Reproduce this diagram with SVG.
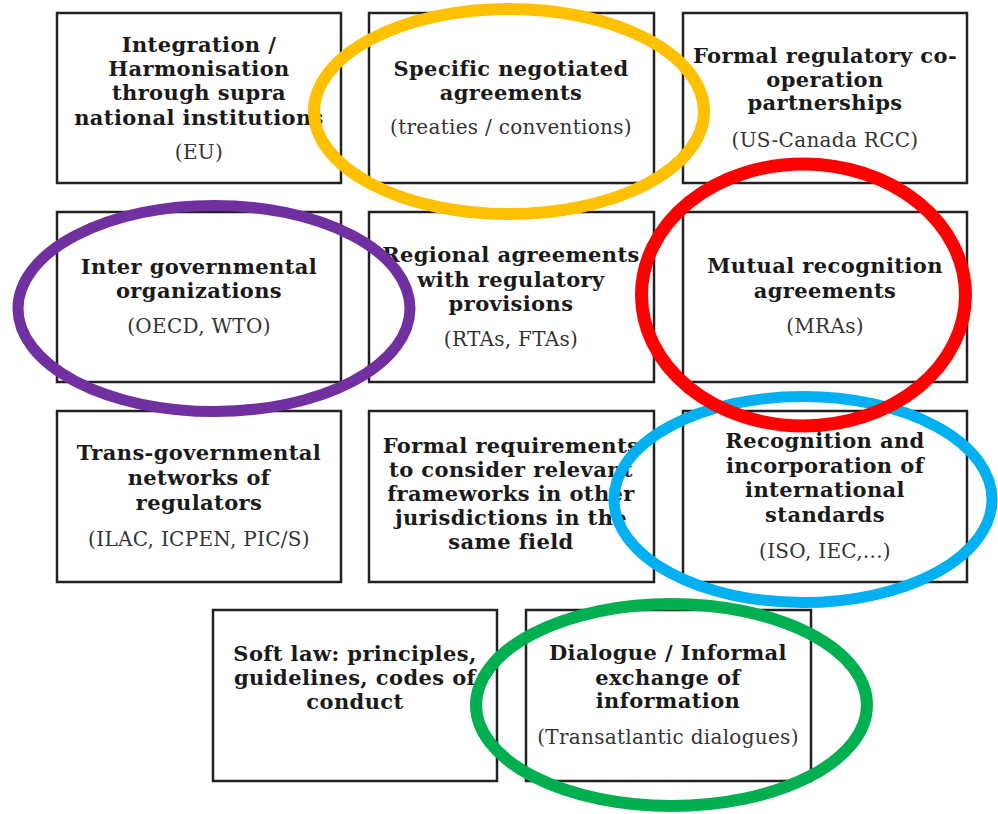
<svg xmlns="http://www.w3.org/2000/svg" width="998" height="814" viewBox="0 0 998 814">
<style>
.box{fill:#fff;stroke:#222;stroke-width:2.5}
.t{font-family:"DejaVu Serif","Liberation Serif",serif;font-weight:bold;font-size:21px;letter-spacing:0.4px;fill:#1a1a1a;text-anchor:middle}
.s{font-family:"DejaVu Serif","Liberation Serif",serif;font-size:20px;letter-spacing:0.3px;fill:#333;text-anchor:middle}
.ring{fill:none}
</style>
<rect width="998" height="814" fill="#fff"/>
<g id="n1"><rect class="box" x="57" y="13" width="284" height="170"/>
<text class="t" x="199" y="52">Integration /</text><text class="t" x="199" y="76">Harmonisation</text><text class="t" x="199" y="100">through supra</text><text class="t" x="199" y="125">national institutions</text><text class="s" x="199" y="159">(EU)</text></g>
<g id="n2"><rect class="box" x="369" y="13" width="285" height="170"/>
<text class="t" x="511" y="76">Specific negotiated</text><text class="t" x="511" y="100">agreements</text><text class="s" x="511" y="134">(treaties / conventions)</text></g>
<g id="n3"><rect class="box" x="683" y="13" width="284" height="170"/>
<text class="t" x="825" y="63">Formal regulatory co-</text><text class="t" x="825" y="87">operation</text><text class="t" x="825" y="110">partnerships</text><text class="s" x="825" y="147">(US-Canada RCC)</text></g>
<g id="n4"><rect class="box" x="57" y="212" width="284" height="170"/>
<text class="t" x="199" y="274">Inter governmental</text><text class="t" x="199" y="298">organizations</text><text class="s" x="199" y="333">(OECD, WTO)</text></g>
<g id="n5"><rect class="box" x="369" y="212" width="285" height="170"/>
<text class="t" x="511" y="262">Regional agreements</text><text class="t" x="511" y="287">with regulatory</text><text class="t" x="511" y="311">provisions</text><text class="s" x="511" y="346">(RTAs, FTAs)</text></g>
<g id="n6"><rect class="box" x="683" y="212" width="284" height="170"/>
<text class="t" x="825" y="273">Mutual recognition</text><text class="t" x="825" y="298">agreements</text><text class="s" x="825" y="333">(MRAs)</text></g>
<g id="n7"><rect class="box" x="57" y="411" width="284" height="171"/>
<text class="t" x="199" y="460">Trans-governmental</text><text class="t" x="199" y="485">networks  of</text><text class="t" x="199" y="510">regulators</text><text class="s" x="199" y="546">(ILAC, ICPEN, PIC/S)</text></g>
<g id="n8"><rect class="box" x="369" y="411" width="285" height="171"/>
<text class="t" x="511" y="453">Formal requirements</text><text class="t" x="511" y="477">to consider relevant</text><text class="t" x="511" y="501">frameworks in other</text><text class="t" x="511" y="525">jurisdictions in the</text><text class="t" x="511" y="549">same field</text></g>
<g id="n9"><rect class="box" x="683" y="411" width="284" height="171"/>
<text class="t" x="825" y="448">Recognition and</text><text class="t" x="825" y="473">incorporation of</text><text class="t" x="825" y="497">international</text><text class="t" x="825" y="522">standards</text><text class="s" x="825" y="558">(ISO, IEC,...)</text></g>
<g id="n10"><rect class="box" x="213" y="610" width="284" height="171"/>
<text class="t" x="355" y="661">Soft law: principles,</text><text class="t" x="355" y="685">guidelines, codes of</text><text class="t" x="355" y="709">conduct</text></g>
<g id="n11"><rect class="box" x="526" y="610" width="285" height="171"/>
<text class="t" x="668" y="660">Dialogue / Informal</text><text class="t" x="668" y="685">exchange of</text><text class="t" x="668" y="708">information</text><text class="s" x="668" y="744">(Transatlantic dialogues)</text></g>
<g id="connectors">
<ellipse class="ring" cx="509" cy="111.5" rx="195" ry="102.5" stroke="#FFC000" stroke-width="12"/>
<ellipse class="ring" cx="214" cy="308.5" rx="196" ry="103" stroke="#7030A0" stroke-width="11"/>
<ellipse class="ring" cx="803" cy="499.5" rx="189" ry="103" stroke="#00B0F0" stroke-width="11"/>
<ellipse class="ring" cx="803.5" cy="295" rx="162" ry="131" stroke="#FF0000" stroke-width="13"/>
<ellipse class="ring" cx="671.5" cy="705" rx="195.5" ry="101" stroke="#00B050" stroke-width="12"/>
</g>
</svg>
